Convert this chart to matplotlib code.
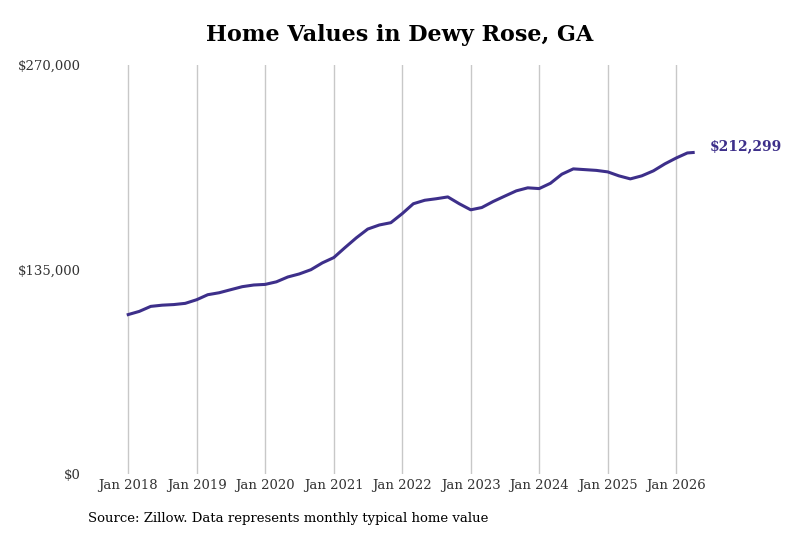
import matplotlib.pyplot as plt
import matplotlib.dates as mdates
import pandas as pd
from matplotlib.ticker import FuncFormatter

dates = pd.to_datetime([
    "2018-01", "2018-03", "2018-05", "2018-07", "2018-09", "2018-11",
    "2019-01", "2019-03", "2019-05", "2019-07", "2019-09", "2019-11",
    "2020-01", "2020-03", "2020-05", "2020-07", "2020-09", "2020-11",
    "2021-01", "2021-03", "2021-05", "2021-07", "2021-09", "2021-11",
    "2022-01", "2022-03", "2022-05", "2022-07", "2022-09", "2022-11",
    "2023-01", "2023-03", "2023-05", "2023-07", "2023-09", "2023-11",
    "2024-01", "2024-03", "2024-05", "2024-07", "2024-09", "2024-11",
    "2025-01", "2025-03", "2025-05", "2025-07", "2025-09", "2025-11",
    "2026-01", "2026-03", "2026-04",
])
values = [
    105400, 107500, 110800, 111600, 112000, 112800,
    115200, 118500, 119800, 121800, 123800, 124900,
    125300, 127000, 130200, 132200, 135000, 139500,
    143000, 149500, 156000, 161800, 164500, 166000,
    172000, 178500, 180800, 181800, 183000, 178500,
    174500, 176000, 180000, 183500, 187000, 189000,
    188500, 192000, 198000, 201500, 201000, 200500,
    199500, 196900, 194900, 196900, 200200, 204800,
    208700, 212000, 212299,
]

color = "#3d2f8a"
plt.rcParams['font.family'] = ['DejaVu Serif']

fig, ax = plt.subplots(figsize=(8, 5.33), dpi=100)
fig.subplots_adjust(left=0.153, right=0.8735, top=0.878, bottom=0.11)
ax.plot(dates, values, color=color, lw=2.2)
ax.set_ylim(0, 270000)
ax.set_xlim(pd.Timestamp("2017-12-01"), pd.Timestamp("2026-05-01"))
ax.set_yticks([0, 135000, 270000])
ax.yaxis.set_major_formatter(FuncFormatter(lambda v, p: f"${v:,.0f}"))
ax.xaxis.set_major_locator(mdates.YearLocator())
ax.xaxis.set_major_formatter(mdates.DateFormatter("Jan %Y"))
ax.grid(axis='x', color='#c8c8c8', lw=1)
for s in ax.spines.values():
    s.set_visible(False)
ax.tick_params(length=0, labelsize=9.5, colors='#333333')
ax.tick_params(axis='y', pad=30)
ax.annotate(f"${values[-1]:,.0f}", (dates[-1], values[-1]), xytext=(12, 2),
            textcoords='offset points', color=color, fontweight='bold', fontsize=10,
            annotation_clip=False)
fig.suptitle("Home Values in Dewy Rose, GA", fontsize=16, fontweight='bold', y=0.955)
fig.text(0.11, 0.02, "Source: Zillow. Data represents monthly typical home value", fontsize=9.5)
fig.savefig("out.png")
